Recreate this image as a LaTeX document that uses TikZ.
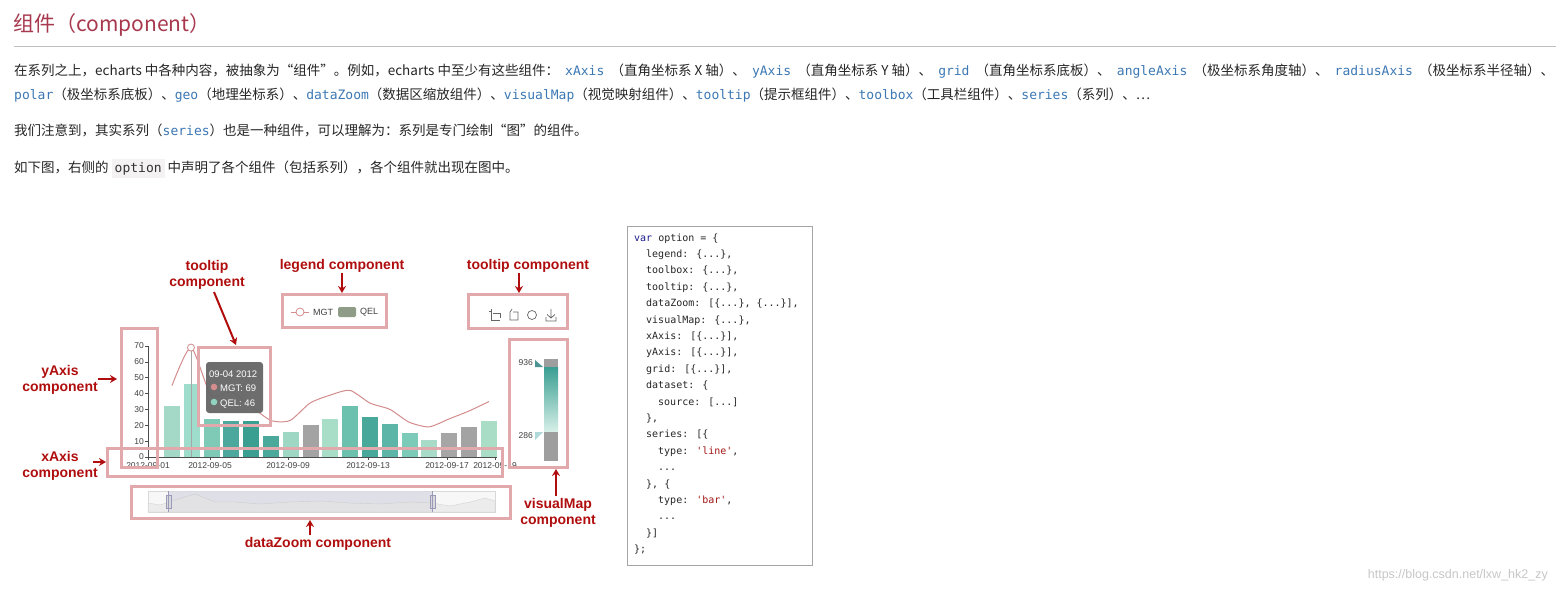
\documentclass[tikz,border=0pt]{standalone}
\usepackage{fontspec}
\usetikzlibrary{arrows.meta}
\setmainfont{Liberation Sans}
\newfontfamily\cjk{Noto Sans CJK SC}
\newfontfamily\codefont{DejaVu Sans Mono}
\definecolor{titlered}{HTML}{A8384E}
\definecolor{codeblue}{HTML}{3C78B4}
\definecolor{lblred}{HTML}{B00E0E}
\definecolor{hibox}{HTML}{E2A9AC}
\definecolor{mgt}{HTML}{D48C8C}
\definecolor{qel}{HTML}{8FD3C0}
\definecolor{leggray}{HTML}{8E9C88}
\definecolor{varblue}{HTML}{1A1A8C}
\definecolor{strred}{HTML}{A31515}
\definecolor{codebg}{HTML}{F4F2F2}
\newcommand{\dts}{.\kern0pt.\kern0pt.}
\tikzset{
 body/.style={anchor=base west,inner sep=0pt,font=\cjk\fontsize{13.5}{16}\selectfont,text=black!85},
 hl/.style={draw=hibox,line width=3pt},
 lbl/.style={font=\fontsize{14}{16}\selectfont\bfseries,text=lblred,align=center,inner sep=0pt},
 rarrow/.style={draw=lblred,line width=2pt,-{Stealth[length=7pt,width=8pt]}},
 ax/.style={font=\fontsize{8.5}{9}\selectfont,text=black!75,inner sep=0pt},
 cl/.style={anchor=base west,inner sep=0pt,font=\codefont\fontsize{10}{12}\selectfont,text=black!85},
}
\newcommand{\cd}[1]{{\codefont\fontsize{13}{15}\selectfont\color{codeblue}#1}}
\begin{document}
\begin{tikzpicture}[x=1pt,y=-1pt]
\useasboundingbox (0,0) rectangle (1556,591);
\fill[white] (0,0) rectangle (1556,591);
% title
\node[anchor=base west,inner sep=0pt,font=\cjk\fontsize{21}{24}\selectfont,text=titlered] (title) at (13,32) {组件（component）};
\draw[black!25] (14,46) -- (1556,46);
\node[body] (p1) at (14,76) {\hbox to 1540pt{在系列之上，echarts 中各种内容，被抽象为“组件”。例如，echarts 中至少有这些组件：\hfill\cd{xAxis}\hfill（直角坐标系 X 轴）、\hfill\cd{yAxis}\hfill（直角坐标系 Y 轴）、\hfill\cd{grid}\hfill（直角坐标系底板）、\hfill\cd{angleAxis}\hfill（极坐标系角度轴）、\hfill\cd{radiusAxis}\hfill（极坐标系半径轴）、}};
\node[body] (p2) at (14,100) {\cd{polar}（极坐标系底板）、\cd{geo}（地理坐标系）、\cd{dataZoom}（数据区缩放组件）、\cd{visualMap}（视觉映射组件）、\cd{tooltip}（提示框组件）、\cd{toolbox}（工具栏组件）、\cd{series}（系列）、…};
\node[body] (p3) at (14,136) {我们注意到，其实系列（\cd{series}）也是一种组件，可以理解为：系列是专门绘制“图”的组件。};
\node[body] (p4) at (14,172) {如下图，右侧的 {\setlength\fboxsep{3pt}\colorbox{codebg}{\cd{\color{black!80}option}}} 中声明了各个组件（包括系列），各个组件就出现在图中。};
% ---- chart ----
\foreach \v/\c [count=\i from 0] in {32/A3D9C6,46/9EDDCB,24/7FC9B7,23/4CA89C,23/3A9E90,13/4BA99C,16/9ED7C4,20/A3A3A3,24/A8DDC8,32/6CC0AE,25/48A89A,21/5CB5A6,15/7CCAB8,11/A8DCC9,15/A6A6A6,19/A3A3A3,23/A9DDC6}{
  \definecolor{bc}{HTML}{\c}
  \fill[bc] ({164+19.8*\i},457) rectangle ({180+19.8*\i},{457-1.586*\v});
}
\draw[black!70,line width=0.6pt] (148,346) -- (148,457) -- (497,457);
\foreach \v in {0,10,20,30,40,50,60,70}{
  \draw[black!70,line width=0.6pt] (145,{457-1.586*\v}) -- (148,{457-1.586*\v});
  \node[ax,anchor=east] at (144,{457-1.586*\v}) {\v};
}
\foreach \x/\t in {148/2012-09-01,210/2012-09-05,288/2012-09-09,368/2012-09-13,447/2012-09-17,495/2012-09-19}{
  \draw[black!70,line width=0.6pt] (\x,457) -- (\x,460);
  \node[ax,anchor=north] at (\x,462) {\t};
}
\draw[black!35,line width=0.5pt] (191,347) -- (191,457);
\draw[mgt,line width=1pt] plot[smooth,tension=0.4] coordinates {
(172,{457-1.586*45}) (191,{457-1.586*69}) (211,{457-1.586*39}) (231,{457-1.586*41}) (251,{457-1.586*32})
(271,{457-1.586*23}) (290,{457-1.586*23}) (310,{457-1.586*34}) (330,{457-1.586*39}) (350,{457-1.586*42})
(370,{457-1.586*34}) (390,{457-1.586*30}) (409,{457-1.586*22}) (429,{457-1.586*19}) (449,{457-1.586*24})
(469,{457-1.586*29}) (489,{457-1.586*35})};
\draw[mgt,fill=white,line width=0.8pt] (191,{457-1.586*69}) circle (3.5pt);
% tooltip
\fill[black!60,rounded corners=3pt,opacity=0.95] (206,362) rectangle (263,413);
\node[anchor=base west,inner sep=0pt,text=white,font=\fontsize{9.5}{12}\selectfont] (tt1) at (209,377) {09-04 2012};
\fill[mgt] (214,387) circle (3.3pt);
\node[anchor=base west,inner sep=0pt,text=white,font=\fontsize{9.5}{12}\selectfont] (tt2) at (220,391) {MGT: 69};
\fill[qel] (214,402) circle (3.3pt);
\node[anchor=base west,inner sep=0pt,text=white,font=\fontsize{9.5}{12}\selectfont] (tt3) at (220,406) {QEL: 46};
% legend
\draw[mgt,line width=0.8pt] (291,312) -- (309,312);
\draw[mgt,fill=white,line width=0.8pt] (300,312) circle (4pt);
\node[ax,anchor=west,font=\fontsize{9}{10}\selectfont] (lg1) at (313,312) {MGT};
\fill[leggray,rounded corners=1.5pt] (338,307) rectangle (356,317);
\node[ax,anchor=west,font=\fontsize{9}{10}\selectfont] (lg2) at (360,312) {QEL};
% toolbox icons
\begin{scope}[black!60,line width=0.7pt]
\draw (491,311) -- (491,320) -- (500,320) (493,313) -- (500,313) -- (500,318) (489,311)--(491,311) (491,309)--(491,311);
\draw (510,312) -- (510,320) -- (518,320) -- (518,312) -- (513,312) (510,312)--(512,309);
\draw (532,315) circle (4.5pt);
\draw (551,309) -- (551,318) (547,314.5) -- (551,318) -- (555,314.5) (546,317) -- (546,321) -- (556,321) -- (556,317);
\end{scope}
% visualMap
\fill[black!38] (544,359) rectangle (558,367);
\shade[top color={rgb,255:red,58;green,158;blue,146},bottom color={rgb,255:red,215;green,240;blue,232}] (544,367) rectangle (558,432);
\fill[black!38] (544,432) rectangle (558,461);
\fill[teal!80!black!70] (535,360) -- (543,367) -- (535,367) -- cycle;
\fill[teal!30] (535,432) -- (543,432) -- (535,440) -- cycle;
\node[ax,anchor=east] (vm1) at (533,363) {936};
\node[ax,anchor=east] (vm2) at (533,436) {286};
% dataZoom
\draw[black!15,fill=black!3] (148,491) rectangle (495,512);
\fill[blue!30!black!15,opacity=0.8] (168,491) rectangle (432,512);
\draw[black!25,fill=black!10,opacity=0.6] (148,503) -- (160,505) -- (175,500) -- (195,494) -- (215,502) -- (235,502) -- (260,504) -- (290,502) -- (320,501) -- (350,503) -- (380,504) -- (410,502) -- (432,503) -- (450,506) -- (470,502) -- (485,498) -- (495,501) -- (495,512) -- (148,512) -- cycle;
\draw[blue!30!black!40,fill=blue!10!black!15] (166,495) rectangle (171,508);
\draw[blue!30!black!40,fill=blue!10!black!15] (430,495) rectangle (435,508);
\draw[blue!30!black!40,line width=0.5pt] (168,491)--(168,512) (432,491)--(432,512);
% highlight boxes
\draw[hl] (121,328) rectangle (157,467);
\draw[hl] (198,347) rectangle (270,425);
\draw[hl] (107,448) rectangle (502,476);
\draw[hl] (282,294) rectangle (386,327);
\draw[hl] (468,294) rectangle (567,328);
\draw[hl] (509,339) rectangle (567,467);
\draw[hl] (131,486) rectangle (510,518);
% labels and arrows
\node[lbl] (ltt) at (207,275) {tooltip\\component};
\coordinate (ltt1) at (214,292);
\coordinate (ltt2) at (236,345);
\draw[rarrow] (ltt1) -- (ltt2);
\node[lbl] (lleg) at (342,266) {legend component};
\coordinate (lleg2) at (342,293);
\draw[rarrow] (lleg.south) -- (lleg2);
\node[lbl] (ltb) at (528,266) {tooltip component};
\coordinate (ltb2) at (519,293);
\draw[rarrow] (ltb.south -| ltb2) -- (ltb2);
\node[lbl] (lya) at (60,380) {yAxis\\component};
\coordinate (lya2) at (117,379);
\draw[rarrow] (98,379) -- (lya2);
\node[lbl] (lxa) at (60,466) {xAxis\\component};
\coordinate (lxa2) at (106,462);
\draw[rarrow] (93,462) -- (lxa2);
\node[lbl] (ldz) at (318,544) {dataZoom component};
\coordinate (ldz2) at (310,520);
\draw[rarrow] (310,535) -- (ldz2);
\node[lbl] (lvm) at (558,513) {visualMap\\component};
\coordinate (lvm2) at (556,469);
\draw[rarrow] (556,496) -- (lvm2);
% code block
\draw[black!35,line width=0.6pt] (627,226) rectangle (812,565);
\foreach \t/\ind [count=\i from 0] in {
 {{\color{varblue}var} option = \{}/0,
 {legend: \{\dts\},}/1,
 {toolbox: \{\dts\},}/1,
 {tooltip: \{\dts\},}/1,
 {dataZoom: [\{\dts\}, \{\dts\}],}/1,
 {visualMap: \{\dts\},}/1,
 {xAxis: [\{\dts\}],}/1,
 {yAxis: [\{\dts\}],}/1,
 {grid: [\{\dts\}],}/1,
 {dataset: \{}/1,
 {source: [\dts]}/2,
 {\},}/1,
 {series: [\{}/1,
 {type: {\color{strred}'line'},}/2,
 {\dts}/2,
 {\}, \{}/1,
 {type: {\color{strred}'bar'},}/2,
 {\dts}/2,
 {\}]}/1,
 {\};}/0}{
 \node[cl] at ({634+12*\ind},{241+16.4*\i}) {\t};
}
\node[anchor=base east,inner sep=0pt,font=\fontsize{12.5}{14}\selectfont,text=black!22] (wm) at (1548,578) {https://blog.csdn.net/lxw\_hk2\_zy};
\end{tikzpicture}
\end{document}
